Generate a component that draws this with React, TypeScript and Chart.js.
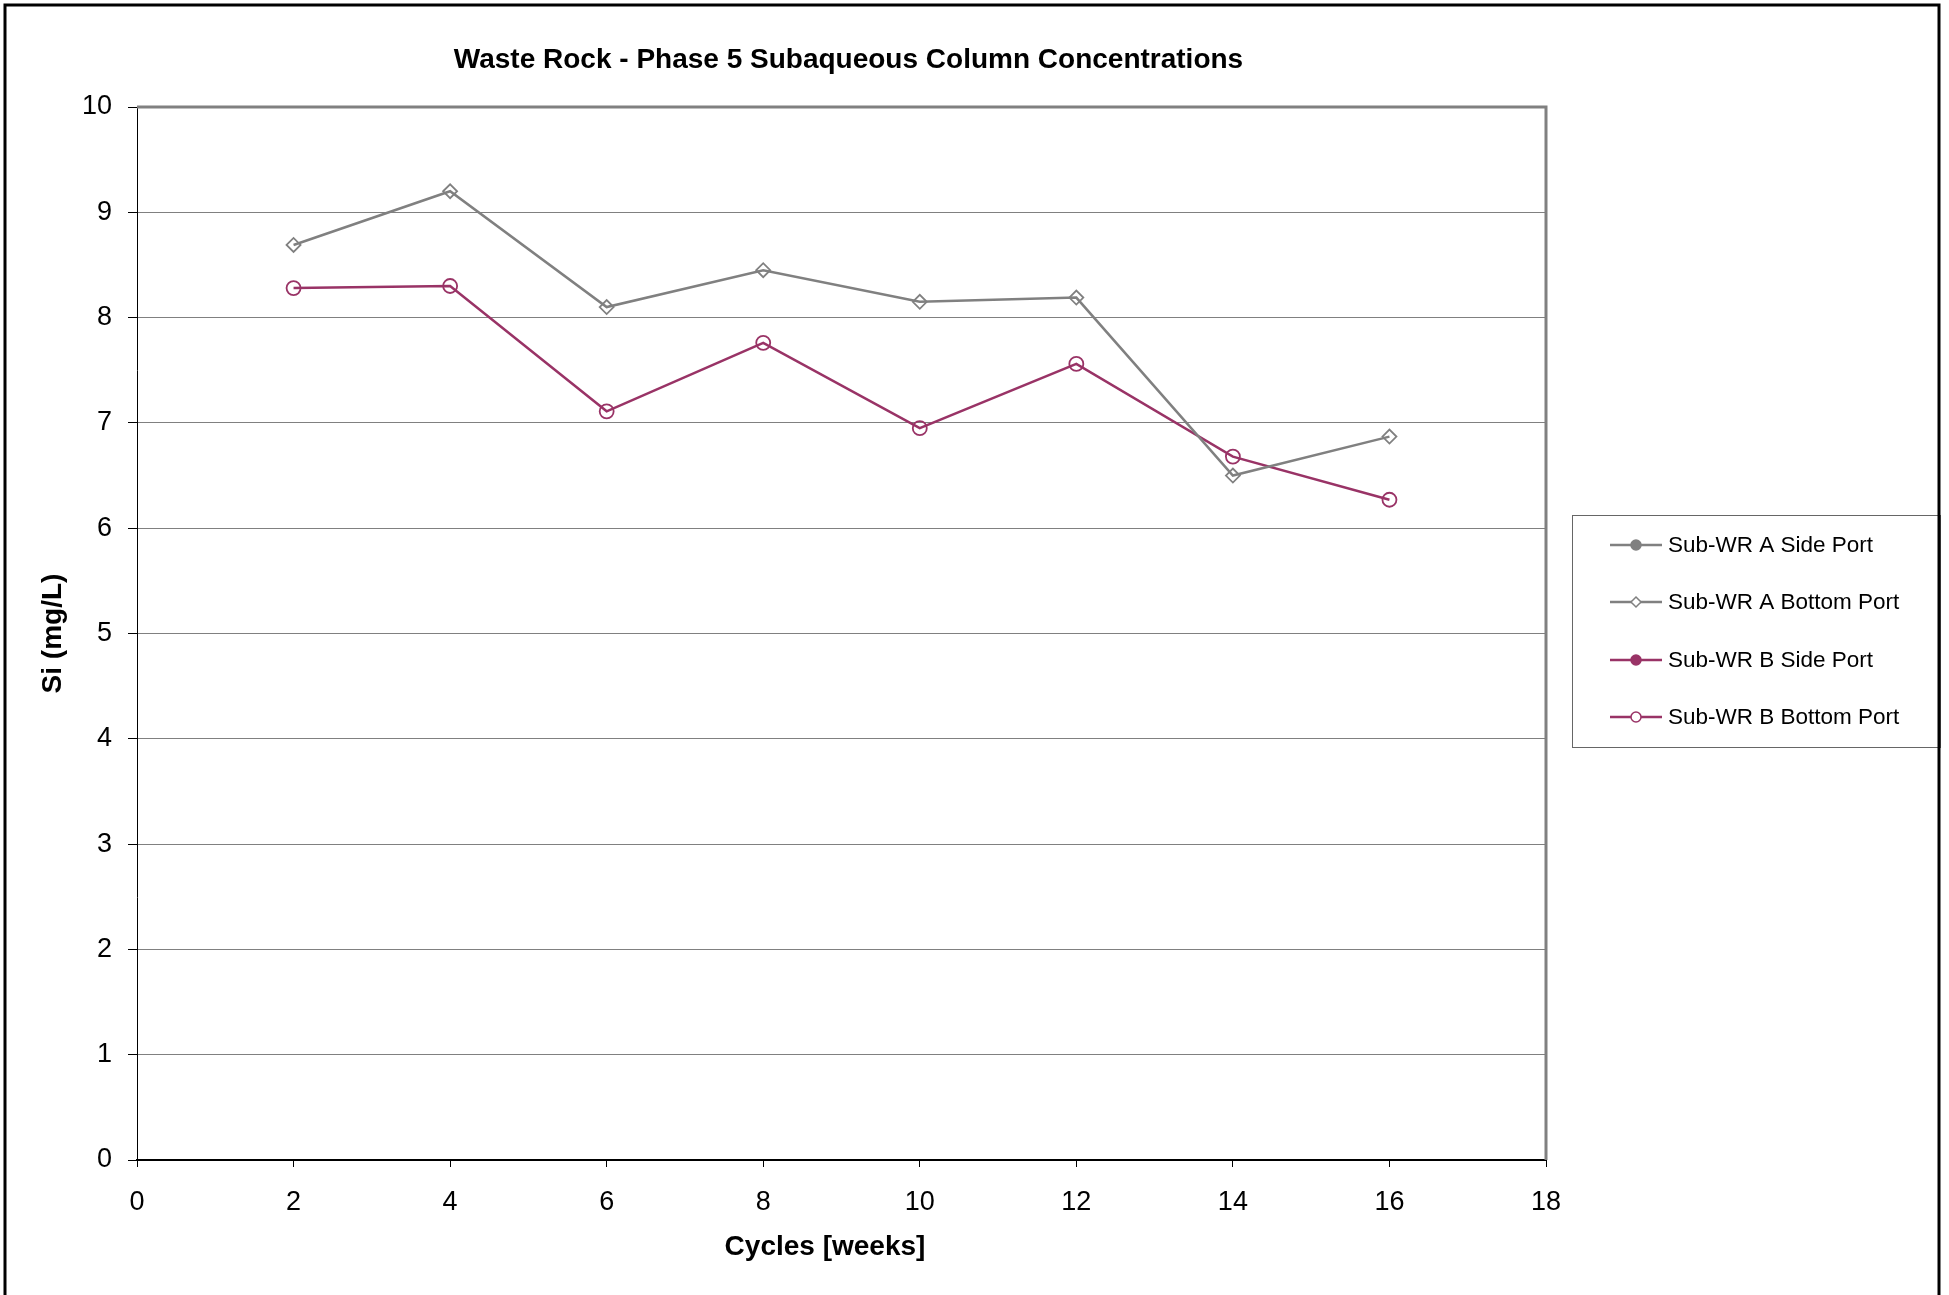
import React, { useEffect, useRef } from "react";
import { Chart, registerables } from "chart.js";

Chart.register(...registerables);

const titleText = "Waste Rock - Phase 5 Subaqueous Column Concentrations";
const xTitle = "Cycles [weeks]";
const yTitle = "Si (mg/L)";

const cycles = [2, 4, 6, 8, 10, 12, 14, 16];
const aSidePort: number[] = [];
const aBottomPort = [8.69, 9.2, 8.1, 8.45, 8.15, 8.19, 6.5, 6.87];
const bSidePort: number[] = [];
const bBottomPort = [8.28, 8.3, 7.11, 7.76, 6.95, 7.56, 6.68, 6.27];

const seriesLabels = [
  "Sub-WR A Side Port",
  "Sub-WR A Bottom Port",
  "Sub-WR B Side Port",
  "Sub-WR B Bottom Port",
];

const GREY = "#808080";
const PLUM = "#993366";
const FONT = "'Liberation Sans', Arial, sans-serif";

const toPoints = (vals: number[]) => vals.map((v, i) => ({ x: cycles[i], y: v }));

export default function App() {
  const ref = useRef<HTMLCanvasElement | null>(null);

  useEffect(() => {
    document.body.style.margin = "0";
    document.body.style.overflow = "hidden";
    const canvas = ref.current;
    if (!canvas) return;

    const legendMeta = [
      { color: GREY, style: "circle", fill: true, r: 5 },
      { color: GREY, style: "diamond", fill: false, r: 5 },
      { color: PLUM, style: "circle", fill: true, r: 5 },
      { color: PLUM, style: "circle", fill: false, r: 5 },
    ];

    const decor = {
      id: "decor",
      beforeDraw(chart: any) {
        const ctx = chart.ctx;
        ctx.save();
        ctx.fillStyle = "#ffffff";
        ctx.fillRect(0, 0, chart.width, chart.height);
        ctx.restore();
      },
      beforeDatasetsDraw(chart: any) {
        const { ctx, chartArea } = chart;
        ctx.save();
        ctx.strokeStyle = GREY;
        ctx.lineWidth = 3;
        ctx.beginPath();
        ctx.moveTo(chartArea.left, chartArea.top);
        ctx.lineTo(chartArea.right, chartArea.top);
        ctx.lineTo(chartArea.right, chartArea.bottom);
        ctx.stroke();
        ctx.restore();
      },
      afterDraw(chart: any) {
        const { ctx, chartArea } = chart;
        ctx.save();
        // title
        ctx.fillStyle = "#000";
        ctx.font = `bold 28px ${FONT}`;
        ctx.textAlign = "center";
        ctx.textBaseline = "middle";
        ctx.fillText(titleText, (chartArea.left + chartArea.right) / 2 + 7, 60);

        // x axis title
        ctx.fillText(xTitle, 825, 1247);

        // legend
        const bx = 1572, by = 515, bw = 368, bh = 232;
        ctx.strokeStyle = "#666";
        ctx.lineWidth = 1;
        ctx.strokeRect(bx + 0.5, by + 0.5, bw, bh);
        const rows = [545, 602, 660, 717];
        chart.data.datasets.forEach((ds: any, i: number) => {
          const y = rows[i];
          const m = legendMeta[i];
          ctx.strokeStyle = m.color;
          ctx.lineWidth = 2.5;
          ctx.beginPath();
          ctx.moveTo(1610, y);
          ctx.lineTo(1662, y);
          ctx.stroke();
          const cx = 1636;
          ctx.lineWidth = 1.5;
          ctx.beginPath();
          if (m.style === "diamond") {
            ctx.moveTo(cx, y - m.r);
            ctx.lineTo(cx + m.r, y);
            ctx.lineTo(cx, y + m.r);
            ctx.lineTo(cx - m.r, y);
            ctx.closePath();
          } else {
            ctx.arc(cx, y, m.r, 0, Math.PI * 2);
          }
          ctx.fillStyle = m.fill ? m.color : "#fff";
          ctx.fill();
          ctx.stroke();
          ctx.fillStyle = "#000";
          ctx.font = `22.5px ${FONT}`;
          ctx.textAlign = "left";
          ctx.textBaseline = "middle";
          ctx.fillText(ds.label, 1668, y + 1);
        });

        // outer frame
        ctx.strokeStyle = "#000";
        ctx.lineWidth = 3;
        ctx.strokeRect(5, 5, 1934, 1310);
        ctx.restore();
      },
    };

    const chart = new Chart(canvas, {
      type: "line",
      data: {
        datasets: [
          {
            label: seriesLabels[0],
            data: toPoints(aSidePort),
            borderColor: GREY,
            backgroundColor: GREY,
            borderWidth: 2.5,
            pointStyle: "circle",
            pointRadius: 5,
          },
          {
            label: seriesLabels[1],
            data: toPoints(aBottomPort),
            borderColor: GREY,
            backgroundColor: "rgba(0,0,0,0)",
            borderWidth: 2.5,
            pointStyle: "rectRot",
            pointRadius: 7,
            pointBorderWidth: 1.8,
          },
          {
            label: seriesLabels[2],
            data: toPoints(bSidePort),
            borderColor: PLUM,
            backgroundColor: PLUM,
            borderWidth: 2.5,
            pointStyle: "circle",
            pointRadius: 5,
          },
          {
            label: seriesLabels[3],
            data: toPoints(bBottomPort),
            borderColor: PLUM,
            backgroundColor: "rgba(0,0,0,0)",
            borderWidth: 2.5,
            pointStyle: "circle",
            pointRadius: 7,
            pointBorderWidth: 1.8,
          },
        ],
      },
      options: {
        responsive: false,
        animation: false,
        layout: { padding: { top: 107, right: 403, left: 0, bottom: 0 } },
        plugins: {
          legend: { display: false },
          title: { display: false },
          tooltip: { enabled: false },
        },
        scales: {
          x: {
            type: "linear",
            min: 0,
            max: 18,
            ticks: {
              stepSize: 2,
              color: "#000",
              padding: 19,
              font: { family: FONT, size: 27 },
            },
            grid: {
              drawOnChartArea: false,
              drawTicks: true,
              tickLength: 7,
              tickColor: "#000",
              color: "#000",
            },
            border: { color: "#000", width: 2 },
            title: { display: false, text: xTitle },
            afterFit: (scale: any) => {
              scale.height = 135;
            },
          },
          y: {
            type: "linear",
            min: 0,
            max: 10,
            ticks: {
              stepSize: 1,
              color: "#000",
              padding: 16,
              font: { family: FONT, size: 27 },
            },
            grid: {
              color: GREY,
              lineWidth: 1,
              drawTicks: true,
              tickLength: 9,
              tickColor: "#000",
            },
            border: { color: "#000", width: 1 },
            title: {
              display: true,
              text: yTitle,
              color: "#000",
              font: { family: FONT, size: 28, weight: "bold" },
              padding: { top: 36, bottom: 0 },
            },
            afterFit: (scale: any) => {
              scale.width = 137;
            },
          },
        },
      },
      plugins: [decor],
    } as any);

    return () => chart.destroy();
  }, []);

  return (
    <div style={{ width: 1949, height: 1295 }}>
      <canvas ref={ref} width={1949} height={1295} style={{ display: "block" }} />
    </div>
  );
}
